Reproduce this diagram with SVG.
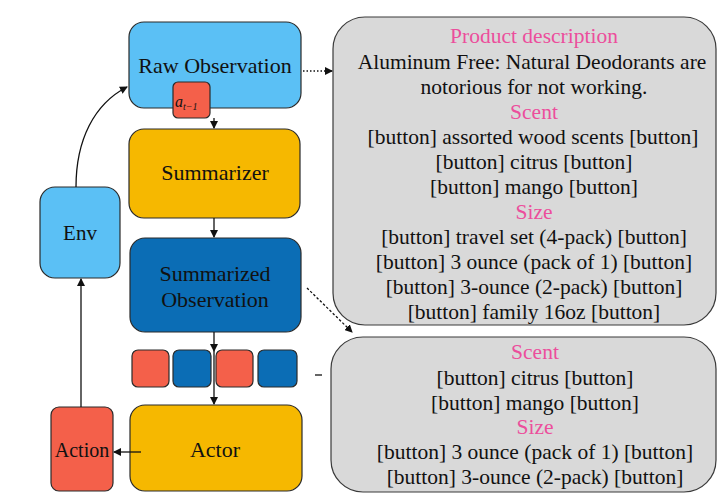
<svg xmlns="http://www.w3.org/2000/svg" width="717" height="495" viewBox="0 0 717 495" font-family="'Liberation Serif', 'DejaVu Serif', serif">
<defs>
<style>
.box{stroke:#2a2a2a;stroke-width:1.2}
.lb{fill:#5BC0F5}
.db{fill:#0B6DB5}
.or{fill:#F6B800}
.rd{fill:#F4604A}
.t{font-family:'Liberation Serif','DejaVu Serif',serif;font-size:22px;fill:#111;text-anchor:middle}
.p{font-family:'Liberation Serif','DejaVu Serif',serif;font-size:21.5px;fill:#111;text-anchor:middle}
.pk{fill:#EC4E9C}
.panel{fill:#D9D9D9;stroke:#3a3a3a;stroke-width:1.2}
.ln{stroke:#111;stroke-width:1.3;fill:none}
</style>
<marker id="ah" markerWidth="8" markerHeight="8" refX="7" refY="4" orient="auto" markerUnits="userSpaceOnUse">
<path d="M0,0 L8,4 L0,8 Z" fill="#111"/>
</marker>
</defs>
<rect width="717" height="495" fill="#fff"/>

<g id="panel1">
<rect class="panel" x="333" y="17" width="383" height="308" rx="32" ry="32"/>
<text class="p pk" x="534" y="43">Product description</text>
<text class="p" x="532" y="68.5">Aluminum Free: Natural Deodorants are</text>
<text class="p" x="534" y="94">notorious for not working.</text>
<text class="p pk" x="534" y="119">Scent</text>
<text class="p" x="533" y="144">[button] assorted wood scents [button]</text>
<text class="p" x="534" y="169">[button] citrus [button]</text>
<text class="p" x="534" y="194">[button] mango [button]</text>
<text class="p pk" x="534" y="219">Size</text>
<text class="p" x="534" y="244">[button] travel set (4-pack) [button]</text>
<text class="p" x="534" y="269">[button] 3 ounce (pack of 1) [button]</text>
<text class="p" x="534" y="294">[button] 3-ounce (2-pack) [button]</text>
<text class="p" x="534" y="319">[button] family 16oz [button]</text>
</g>

<g id="panel2">
<rect class="panel" x="331" y="337" width="385" height="155" rx="32" ry="32"/>
<text class="p pk" x="535" y="359">Scent</text>
<text class="p" x="535" y="385">[button] citrus [button]</text>
<text class="p" x="535" y="410">[button] mango [button]</text>
<text class="p pk" x="535" y="434">Size</text>
<text class="p" x="535" y="459">[button] 3 ounce (pack of 1) [button]</text>
<text class="p" x="535" y="484">[button] 3-ounce (2-pack) [button]</text>
</g>

<g id="raw-observation">
<rect class="box lb" x="129" y="22" width="172" height="86" rx="15" ry="15"/>
<text class="t" x="215" y="73">Raw Observation</text>
</g>

<g id="prev-action">
<rect class="box rd" x="173" y="82" width="37" height="36" rx="5" ry="5"/>
<text x="175" y="107" font-size="16" font-style="italic" fill="#111">a<tspan font-size="10" dy="3">t−1</tspan></text>
</g>

<g id="summarizer">
<rect class="box or" x="129" y="129" width="171" height="89" rx="15" ry="15"/>
<text class="t" x="215" y="180">Summarizer</text>
</g>

<g id="summarized-observation">
<rect class="box db" x="130" y="238" width="171" height="94" rx="15" ry="15"/>
<text class="t" x="215" y="281">Summarized</text>
<text class="t" x="215" y="307">Observation</text>
</g>

<g id="history">
<rect class="box rd" x="132" y="350" width="37" height="37" rx="6" ry="6"/>
<rect class="box db" x="173" y="350" width="38" height="37" rx="6" ry="6"/>
<rect class="box rd" x="216" y="350" width="37" height="37" rx="6" ry="6"/>
<rect class="box db" x="258" y="350" width="39" height="37" rx="6" ry="6"/>
</g>

<g id="actor">
<rect class="box or" x="130" y="405" width="172" height="86" rx="15" ry="15"/>
<text class="t" x="215" y="457">Actor</text>
</g>

<g id="action">
<rect class="box rd" x="51" y="407" width="62" height="84" rx="8" ry="8"/>
<text class="t" x="82" y="457" style="font-size:20px">Action</text>
</g>

<g id="env">
<rect class="box lb" x="40" y="187" width="80" height="91" rx="15" ry="15"/>
<text class="t" x="80" y="240" style="font-size:21px">Env</text>
</g>

<g id="connectors">
<line class="ln" x1="214" y1="118" x2="214" y2="128" marker-end="url(#ah)"/>
<line class="ln" x1="214" y1="218" x2="214" y2="237" marker-end="url(#ah)"/>
<line class="ln" x1="214" y1="332" x2="214" y2="351" marker-end="url(#ah)"/>
<line class="ln" x1="214" y1="351" x2="214" y2="404" marker-end="url(#ah)"/>
<line class="ln" x1="141" y1="452" x2="114" y2="452" marker-end="url(#ah)"/>
<line class="ln" x1="81" y1="407" x2="81" y2="279" marker-end="url(#ah)"/>
<path class="ln" d="M76,187 C76,140 94,104 127,87" marker-end="url(#ah)"/>
<line class="ln" x1="303" y1="71" x2="332" y2="71" stroke-dasharray="1.5,2" marker-end="url(#ah)"/>
<line class="ln" x1="307" y1="288" x2="352" y2="332" stroke-dasharray="2.5,2" marker-end="url(#ah)"/>
<line class="ln" x1="315" y1="375" x2="322" y2="375"/>
</g>
</svg>
